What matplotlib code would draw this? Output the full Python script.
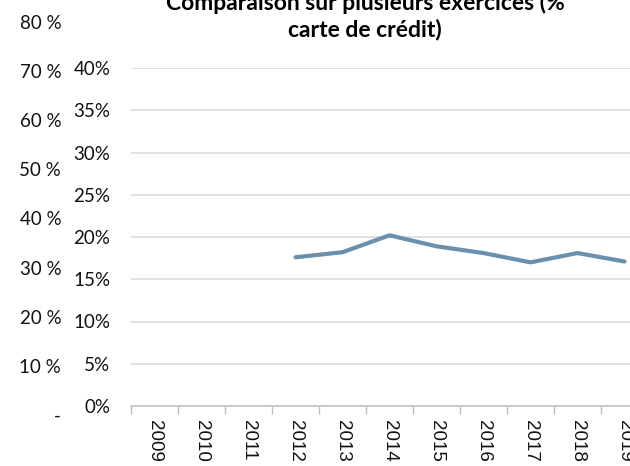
import matplotlib.pyplot as plt
import numpy as np

plt.rcParams['font.family'] = ['Lato', 'DejaVu Sans']

years = ['2009', '2010', '2011', '2012', '2013', '2014', '2015', '2016', '2017', '2018', '2019']
# % carte de crédit (no data before 2012)
credit_pct = [None, None, None, 17.6, 18.2, 20.2, 18.9, 18.1, 17.0, 18.1, 17.1]
pct_ticks = [0, 5, 10, 15, 20, 25, 30, 35, 40]
ghost_ticks = [0, 10, 20, 30, 40, 50, 60, 70, 80]
ghost_labels = ['-', '10 %', '20 %', '30 %', '40 %', '50 %', '60 %', '70 %', '80 %']

W, H = 630, 466
fig = plt.figure(figsize=(W / 100, H / 100), dpi=100)

# main plot area
ax = fig.add_axes([131 / W, 1 - 406 / H, 517 / W, (406 - 68) / H])
x = np.arange(len(years))
xs = [i for i, v in zip(x, credit_pct) if v is not None]
ys = [v / 100 for v in credit_pct if v is not None]
ax.plot(xs, ys, color='#6A90AE', linewidth=3, solid_capstyle='round', zorder=3)

ax.set_xlim(-0.5, len(years) - 0.5)
ax.set_ylim(0, 0.40)
ax.set_yticks([t / 100 for t in pct_ticks])
ax.set_yticklabels([f"{t}%" for t in pct_ticks], fontsize=13.5, color='#111111')
ax.tick_params(axis='y', length=0, pad=15)
ax.grid(axis='y', color='#D9D9D9', linewidth=1.1)
ax.set_axisbelow(True)

ax.set_xticks(x)
ax.set_xticklabels(years, rotation=-90, fontsize=13.5, family='Liberation Sans', color='#111111')
ax.set_xticks(np.arange(-0.5, len(years)), minor=True)
ax.tick_params(axis='x', which='major', length=0, pad=10)
ax.tick_params(axis='x', which='minor', length=6, color='#BFBFBF', width=1)

for s in ['top', 'right', 'left']:
    ax.spines[s].set_visible(False)
ax.spines['bottom'].set_color('#BFBFBF')
ax.spines['bottom'].set_linewidth(1.1)

# leftover axis labels from another series
ax2 = fig.add_axes([64 / W, 1 - 415 / H, 0.01, (415 - 22) / H])
ax2.set_ylim(0, 80)
ax2.set_yticks(ghost_ticks)
ax2.set_yticklabels(ghost_labels, fontsize=13.5, color='#111111')
ax2.tick_params(axis='y', length=0, pad=2)
ax2.set_xticks([])
for s in ax2.spines.values():
    s.set_visible(False)
ax2.patch.set_alpha(0)

fig.text(365 / W, 1 - 36 / H, "Comparaison sur plusieurs exercices (%\ncarte de crédit)",
         ha='center', va='baseline', fontsize=16.5, fontweight='bold', linespacing=1.25)

fig.savefig('out.png', dpi=100)
